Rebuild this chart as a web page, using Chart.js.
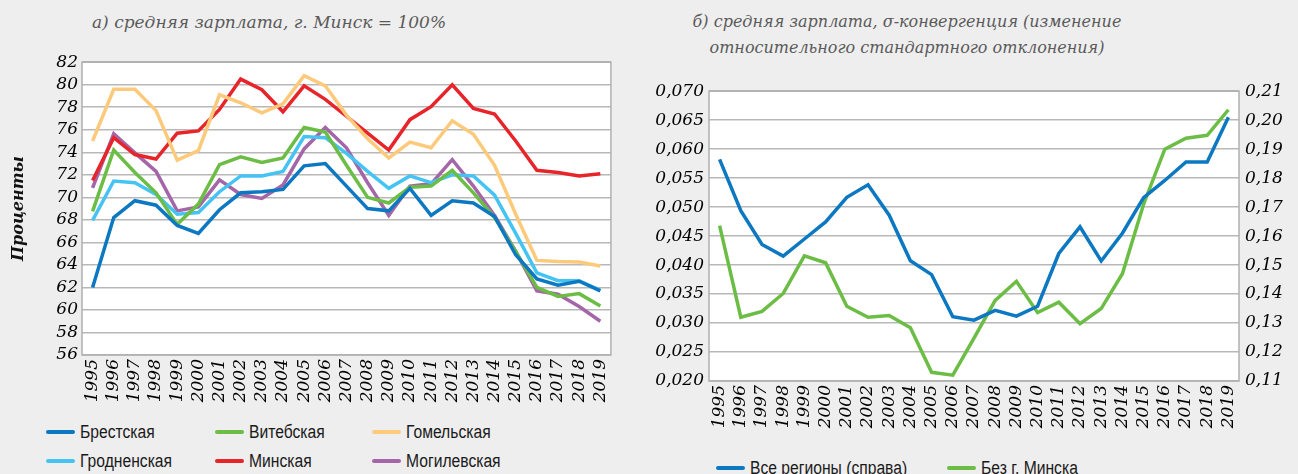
<!DOCTYPE html>
<html>
<head>
<meta charset="utf-8">
<script src="https://cdn.jsdelivr.net/npm/chart.js@4"></script>
<style>
  html, body { margin: 0; padding: 0; background: #eeeeee; }
  #wrap { position: relative; width: 1298px; height: 474px; overflow: hidden; background: #eeeeee; }
  .ttl { position: absolute; text-align: center; font-family: "DejaVu Serif", serif; font-style: italic;
         font-size: 16px; color: #5a5a5a; line-height: 26px; white-space: nowrap; }
  canvas { position: absolute; }
  .lg { position: absolute; font-family: "Liberation Sans", Arial, sans-serif; font-size: 18px; color: #1a1a1a;
        line-height: 20px; white-space: nowrap; }
  .lg i { display: inline-block; width: 29px; height: 4px; border-radius: 2px; margin-right: 5px; vertical-align: middle; }
  .lg span { display: inline-block; transform: scaleX(0.87); transform-origin: left center; vertical-align: middle; }
</style>
</head>
<body>
<div id="wrap">
  <div class="ttl" style="left:0;width:538px;top:9px;font-size:17px;">а) средняя зарплата, г. Минск = 100%</div>
  <div class="ttl" style="left:640px;width:534px;top:9px;">б) средняя зарплата, σ-конвергенция (изменение<br>относительного стандартного отклонения)</div>
  <canvas id="chartA" width="625" height="370" style="left:0;top:48px;"></canvas>
  <canvas id="chartB" width="658" height="368" style="left:640px;top:75px;"></canvas>
  <div id="legendA"></div>
  <div id="legendB"></div>
</div>
<script>
// --- data ---
var years = ['1995', '1996', '1997', '1998', '1999', '2000', '2001', '2002', '2003', '2004', '2005', '2006',
             '2007', '2008', '2009', '2010', '2011', '2012', '2013', '2014', '2015', '2016', '2017', '2018', '2019'];

var brest   = [62.0, 68.2, 69.7, 69.3, 67.5, 66.8, 68.9, 70.4, 70.5, 70.7, 72.8, 73.0, 71.0, 69.0, 68.8, 70.8, 68.4, 69.7, 69.5, 68.3, 64.9, 62.75, 62.2, 62.55, 61.7];
var vitebsk = [68.75, 74.2, 72.2, 70.4, 67.6, 69.4, 72.9, 73.6, 73.1, 73.5, 76.2, 75.8, 72.85, 70.0, 69.5, 70.9, 71.0, 72.4, 70.4, 68.2, 65.2, 62.0, 61.2, 61.45, 60.35];
var gomel   = [75.0, 79.6, 79.6, 77.7, 73.3, 74.15, 79.1, 78.4, 77.5, 78.3, 80.8, 79.9, 77.3, 75.2, 73.5, 74.9, 74.4, 76.8, 75.6, 72.85, 68.5, 64.4, 64.3, 64.25, 63.9];
var grodno  = [67.95, 71.45, 71.3, 70.25, 68.5, 68.65, 70.5, 71.9, 71.9, 72.3, 75.4, 75.3, 73.9, 72.3, 70.8, 71.9, 71.3, 72.0, 71.9, 70.2, 66.8, 63.3, 62.6, 62.6, 61.75];
var minsk   = [71.5, 75.3, 73.8, 73.4, 75.7, 75.9, 77.8, 80.5, 79.55, 77.6, 79.9, 78.7, 77.2, 75.7, 74.2, 76.9, 78.05, 80.0, 77.9, 77.4, 75.0, 72.4, 72.2, 71.9, 72.1];
var mogilev = [70.85, 75.65, 73.95, 72.3, 68.8, 69.15, 71.55, 70.25, 69.9, 71.1, 74.3, 76.2, 74.4, 71.3, 68.4, 71.0, 71.2, 73.35, 71.0, 68.4, 65.2, 61.7, 61.4, 60.3, 59.0];

var regionNames  = ['Брестская', 'Витебская', 'Гомельская', 'Гродненская', 'Минская', 'Могилевская'];
var regionColors = ['#0b78c1', '#6cbd45', '#fdc97a', '#45c4f3', '#e8242b', '#a466a8'];

var allRegions = [0.1865, 0.1688, 0.1571, 0.1531, 0.1590, 0.1649, 0.1734, 0.1777, 0.1672, 0.1515, 0.1467, 0.1322, 0.1310, 0.1344, 0.1324, 0.1358, 0.1540, 0.1632, 0.1514, 0.1610, 0.1733, 0.1792, 0.1856, 0.1856, 0.2010];
var noMinsk    = [0.0468, 0.0310, 0.0320, 0.0351, 0.0416, 0.0404, 0.0329, 0.0310, 0.0313, 0.0292, 0.0215, 0.0210, 0.0274, 0.0339, 0.0372, 0.0318, 0.0336, 0.0299, 0.0325, 0.0385, 0.0505, 0.0600, 0.0619, 0.0624, 0.0668];

var sigmaNames  = ['Все  регионы  (справа)', 'Без  г.  Минска'];
var sigmaColors = ['#0b78c1', '#6cbd45'];

// --- shared look ---
var SERIF = '"DejaVu Serif", serif';
var tickFont = { family: SERIF, size: 17, style: 'italic' };
var gridColor = '#b8b8b8';

// white plot box with grey frame
var plotFrame = {
    id: 'plotFrame',
    beforeDraw: function (chart) {
        var a = chart.chartArea, ctx = chart.ctx;
        ctx.save();
        ctx.fillStyle = '#ffffff';
        ctx.fillRect(a.left, a.top, a.right - a.left, a.bottom - a.top);
        ctx.restore();
    },
    beforeDatasetsDraw: function (chart) {
        var a = chart.chartArea, ctx = chart.ctx;
        ctx.save();
        ctx.strokeStyle = '#b0b0b0';
        ctx.lineWidth = 1.5;
        ctx.strokeRect(a.left, a.top, a.right - a.left, a.bottom - a.top);
        ctx.restore();
    }
};

function lineSet(label, data, color, axis) {
    var ds = {
        label: label,
        data: data,
        borderColor: color,
        backgroundColor: color,
        borderWidth: 3.5,
        pointRadius: 0,
        tension: 0,
        fill: false,
        borderJoinStyle: 'miter'
    };
    if (axis) ds.yAxisID = axis;
    return ds;
}

function xAxis(height) {
    return {
        offset: true,
        grid: { display: false, drawTicks: false },
        border: { display: false },
        ticks: { color: '#000', font: tickFont, minRotation: 90, maxRotation: 90, autoSkip: false, padding: 4 },
        afterFit: function (s) { s.height = height; }
    };
}

function commaFmt(digits) {
    return function (v) { return Number(v).toFixed(digits).replace('.', ','); };
}

// --- chart a ---
new Chart(document.getElementById('chartA'), {
    type: 'line',
    data: {
        labels: years,
        datasets: [
            lineSet(regionNames[0], brest,   regionColors[0]),
            lineSet(regionNames[1], vitebsk, regionColors[1]),
            lineSet(regionNames[2], gomel,   regionColors[2]),
            lineSet(regionNames[3], grodno,  regionColors[3]),
            lineSet(regionNames[4], minsk,   regionColors[4]),
            lineSet(regionNames[5], mogilev, regionColors[5])
        ]
    },
    options: {
        responsive: false,
        animation: false,
        layout: { padding: { top: 8, right: 13, bottom: 0, left: 0 } },
        plugins: { legend: { display: false }, tooltip: { enabled: false } },
        scales: {
            x: xAxis(63),
            y: {
                min: 56, max: 82,
                grid: { color: gridColor, lineWidth: 1.5, drawTicks: false },
                border: { display: false },
                ticks: { stepSize: 2, autoSkip: false, color: '#000', font: tickFont, padding: 4 },
                title: {
                    display: true, text: 'Проценты', color: '#111',
                    font: { family: SERIF, size: 16, style: 'italic', weight: 'bold' },
                    padding: { top: 9, bottom: 0 }
                },
                afterFit: function (s) { s.width = 82; }
            }
        }
    },
    plugins: [plotFrame]
});

// --- chart b ---
new Chart(document.getElementById('chartB'), {
    type: 'line',
    data: {
        labels: years,
        datasets: [
            lineSet(sigmaNames[0], allRegions, sigmaColors[0], 'y2'),
            lineSet(sigmaNames[1], noMinsk,    sigmaColors[1], 'y')
        ]
    },
    options: {
        responsive: false,
        animation: false,
        layout: { padding: { top: 8, right: 0, bottom: 0, left: 0 } },
        plugins: { legend: { display: false }, tooltip: { enabled: false } },
        scales: {
            x: xAxis(62),
            y: {
                position: 'left',
                min: 0.02, max: 0.07,
                grid: { color: gridColor, lineWidth: 1.5, drawTicks: false },
                border: { display: false },
                ticks: { stepSize: 0.005, autoSkip: false, color: '#000', font: tickFont, padding: 5, callback: commaFmt(3) },
                afterFit: function (s) { s.width = 69; }
            },
            y2: {
                position: 'right',
                min: 0.11, max: 0.21,
                grid: { display: false, drawTicks: false },
                border: { display: false },
                ticks: { stepSize: 0.01, autoSkip: false, color: '#000', font: tickFont, padding: 6, callback: commaFmt(2) },
                afterFit: function (s) { s.width = 59; }
            }
        }
    },
    plugins: [plotFrame]
});

// --- html legends ---
function legendItem(name, color, x, y) {
    return '<div class="lg" style="left:' + x + 'px;top:' + (y - 10) + 'px;"><i style="background:' + color + '"></i><span>' + name + '</span></div>';
}

var colX = [46, 215, 372], rowY = [431, 460];
var htmlA = '';
for (var i = 0; i < regionNames.length; i++) {
    htmlA += legendItem(regionNames[i], regionColors[i], colX[i % 3], rowY[Math.floor(i / 3)]);
}
document.getElementById('legendA').innerHTML = htmlA;

var htmlB = legendItem(sigmaNames[0], sigmaColors[0], 716, 467) +
            legendItem(sigmaNames[1], sigmaColors[1], 947, 467);
document.getElementById('legendB').innerHTML = htmlB;
</script>
</body>
</html>
